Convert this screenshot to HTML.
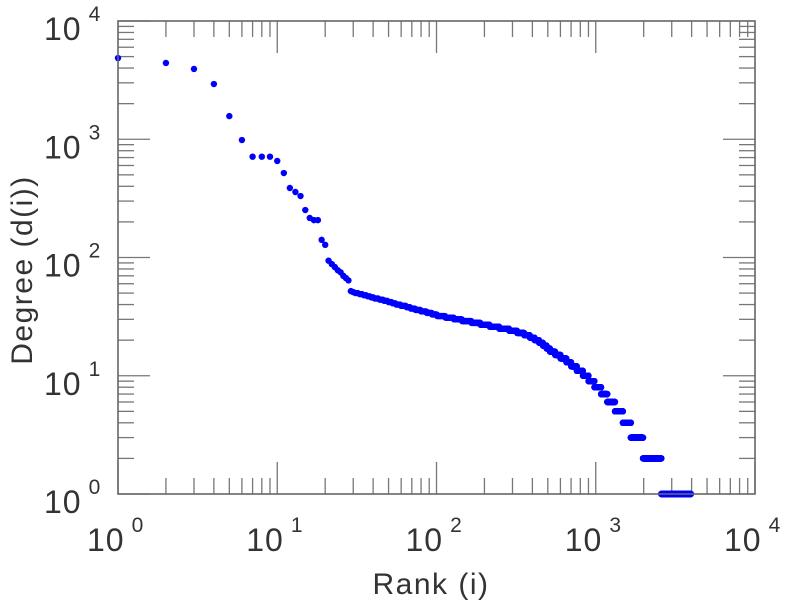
<!DOCTYPE html>
<html><head><meta charset="utf-8"><style>
body{margin:0;background:#fff;}
svg{display:block;font-family:"Liberation Sans",sans-serif;}
</style></head><body>
<svg id="chart" width="786" height="600" viewBox="0 0 786 600" xmlns="http://www.w3.org/2000/svg">
<g id="ticks"></g>
<g id="dots" fill="#0000ff"></g>
<rect x="118" y="21" width="637" height="473" fill="none" stroke="#666" stroke-width="1.6"/>
<g id="labels" fill="#333"></g>
<text x="431" y="594" font-size="30" letter-spacing="1.5" fill="#333" text-anchor="middle">Rank (i)</text>
<text transform="translate(32,270) rotate(-90)" font-size="30" letter-spacing="1.5" fill="#333" text-anchor="middle">Degree (d(i))</text>
</svg>
<script>
// Individually read points (top ranks)
const headRanks = [1,2,3,4,5,6,7,8,9,10,11,12,13,14,15,16,17,18,19,20,21,22,23,24,25,26,27,28];
const headDegrees = [4860,4415,3930,2930,1570,985,712,712,712,655,518,387,358,331,252,216,207,207,141,128,94,88,83,78,75,70,67,64];
// Runs: degree value and last rank holding that degree (ranks continue from previous run)
const runDegrees = [52,51,50,49,48,47,46,45,44,43,42,41,40,39,38,37,36,35,34,33,32,31,30,29,28,27,26,25,24,23,22,21,20,19,18,17,16,15,14,13,12,11,10,9,8,7,6,5,4,3,2,1];
const runEndRanks = [29,30,32,34,36,38,40,43,46,49,52,55,59,64,68,73,79,86,93,100,113,128,144,165,188,215,247,285,320,355,385,412,440,465,490,515,555,600,653,700,760,830,900,980,1080,1180,1320,1480,1660,1980,2580,3950];
const xTickExps = [0,1,2,3,4];
const yTickExps = [0,1,2,3,4];

const NS="http://www.w3.org/2000/svg";
const X0=118,X1=755,Y0=494,Y1=21;
const xs=r=>X0+(X1-X0)*Math.log10(r)/4;
const ys=d=>Y0-(Y0-Y1)*Math.log10(d)/4;
const dots=document.getElementById('dots');
function dot(r,d){
  const c=document.createElementNS(NS,'circle');
  c.setAttribute('cx',xs(r));c.setAttribute('cy',ys(d));c.setAttribute('r',3.2);
  
  
  dots.appendChild(c);
}
headRanks.forEach((r,i)=>dot(r,headDegrees[i]));
let start=headRanks[headRanks.length-1]+1;
runDegrees.forEach((d,i)=>{
  for(let r=start;r<=runEndRanks[i];r++) dot(r,d);
  start=Math.max(start,runEndRanks[i]+1);
});
// ticks
const tg=document.getElementById('ticks');
function line(x1,y1,x2,y2){
  const l=document.createElementNS(NS,'line');
  l.setAttribute('x1',x1);l.setAttribute('y1',y1);l.setAttribute('x2',x2);l.setAttribute('y2',y2);
  l.setAttribute('stroke','#777');l.setAttribute('stroke-width','1.3');
  
  
  tg.appendChild(l);
}
for(let e=0;e<4;e++){
  for(let m=1;m<=9;m++){
    const v=m*Math.pow(10,e);
    const len=(m===1)?32:16;
    if(!(e===0&&m===1)){
      const x=xs(v);line(x,Y0,x,Y0-len);line(x,Y1,x,Y1+len);
      const y=ys(v);line(X0,y,X0+len,y);line(X1,y,X1-len,y);
    }
  }
}
line(X0,Y0,X0+32,Y0);line(X0,Y1,X0+32,Y1);line(X0,Y0,X0,Y0-32);line(X1,Y0,X1,Y0-32);
const lg=document.getElementById('labels');
function label(x,y,exp,name){
  const t=document.createElementNS(NS,'text');
  t.setAttribute('x',x);t.setAttribute('y',y);t.setAttribute('font-size','32');
  t.setAttribute('letter-spacing','1');
  
  
  t.textContent='10';
  const s=document.createElementNS(NS,'tspan');
  s.setAttribute('dx','7');s.setAttribute('dy','-19');s.setAttribute('font-size','21');
  s.textContent=String(exp);
  t.appendChild(s);
  lg.appendChild(t);
}
xTickExps.forEach(e=>label(xs(Math.pow(10,e))-31,551,e,'x-tick-label'));
yTickExps.forEach(e=>label(44,ys(Math.pow(10,e))+19,e,'y-tick-label'));
</script>
</body></html>
